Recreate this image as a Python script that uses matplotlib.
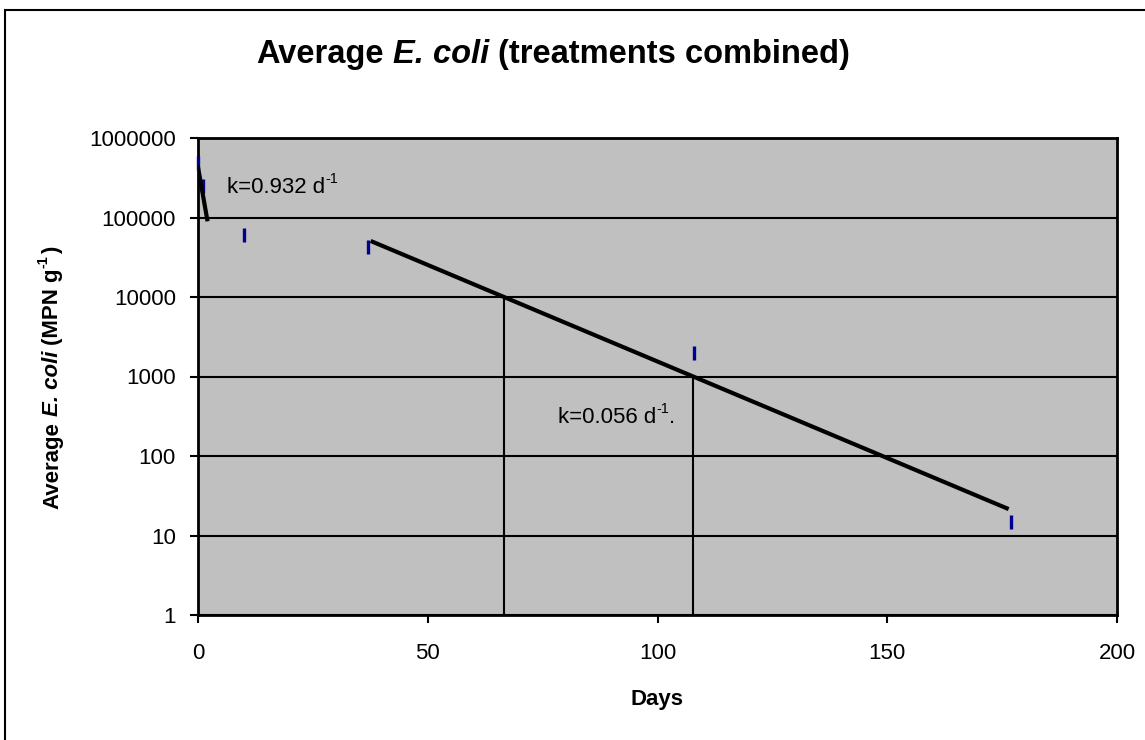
import matplotlib

matplotlib.use("Agg")
import matplotlib.pyplot as plt
from matplotlib.patches import Rectangle
from matplotlib.transforms import IdentityTransform

plt.rcParams["font.family"] = ["Liberation Sans", "DejaVu Sans"]

# observed averages (days, MPN/g)
days = [0, 1, 10, 37, 108, 177]
ecoli = [4.9e5, 2.5e5, 6.0e4, 4.2e4, 2.0e3, 15]

# fitted first-order decay segments (end points)
fit1_x = [0, 2]
fit1_y = [4.3e5, 9.5e4]
fit2_x = [38, 176]
fit2_y = [4.95e4, 22]

# drop lines marking the 10000 -> 1000 decade on the second fit
drop_x = [66.6, 107.8]
drop_y = [1e4, 1e3]

W, H = 1145, 740
fig = plt.figure(figsize=(W / 100, H / 100), dpi=100)
ax = fig.add_axes([198 / W, 1 - 615 / H, 919 / W, 477 / H])
ax.set_facecolor("#c0c0c0")

ax.set_yscale("log")
ax.set_xlim(0, 200)
ax.set_ylim(1, 1e6)
ax.set_xticks([0, 50, 100, 150, 200])
ax.set_yticks([1, 10, 100, 1000, 10000, 100000, 1000000])
ax.set_yticklabels(["1", "10", "100", "1000", "10000", "100000", "1000000"])
ax.minorticks_off()
ax.grid(True, axis="y", color="black", lw=1.5)
ax.set_axisbelow(True)
ax.tick_params(axis="both", labelsize=16, direction="out", length=6, width=1.5)
ax.tick_params(axis="y", pad=10)
ax.tick_params(axis="x", pad=14)
for s in ax.spines.values():
    s.set_linewidth(2)

for x, y in zip(drop_x, drop_y):
    ax.plot([x, x], [1, y], color="black", lw=1.5)

ax.plot(days, ecoli, linestyle="none", marker="|", markersize=10,
        markeredgewidth=2.4, color="#000090", zorder=3, clip_on=False)
ax.plot(fit1_x, fit1_y, color="black", lw=3, zorder=4)
ax.plot(fit2_x, fit2_y, color="black", lw=3, zorder=4)

renderer = fig.canvas.get_renderer()


def rich(x, y, pieces, size, weight="normal", rotation=0, align="left"):
    """Lay out mixed-style pieces; x, y in pixels (baseline start)."""
    ident = IdentityTransform()
    texts = []
    cur = 0.0
    for txt, style, sup, gap in pieces:
        fs = size * 0.65 if sup else size
        rise = size * 0.45 * 100 / 72 if sup else 0.0
        cur += gap * size * 100 / 72
        if rotation == 90:
            pos = (x - rise, y + cur)
        else:
            pos = (x + cur, y + rise)
        t = fig.text(pos[0], pos[1], txt, transform=ident, fontsize=fs,
                     fontweight=weight, fontstyle=style, rotation=rotation,
                     rotation_mode="anchor", ha="left", va="baseline")
        bb = t.get_window_extent(renderer)
        cur += bb.height if rotation == 90 else bb.width
        texts.append(t)
    if align == "center":
        for t in texts:
            px, py = t.get_position()
            if rotation == 90:
                t.set_position((px, py - cur / 2))
            else:
                t.set_position((px - cur / 2, py))
    return texts


SP = 0.278  # Arial space width in em

# title
rich(553, H - 63, [("Average", "normal", False, 0), ("E. coli", "italic", False, SP),
                   ("(treatments combined)", "normal", False, SP)],
     23.5, weight="bold", align="center")

# y axis label
rich(58, H - 378, [("Average", "normal", False, 0), ("E. coli", "italic", False, SP),
                   ("(MPN g", "normal", False, SP), ("-1", "normal", True, 0),
                   (")", "normal", False, 0.05)],
     16, weight="bold", rotation=90, align="center")

# x axis label
rich(657, H - 705, [("Days", "normal", False, 0)], 16, weight="bold", align="center")

# rate annotations
ax0 = ax.transData.transform((6.3, 2.03e5))
rich(ax0[0], ax0[1], [("k=0.932 d", "normal", False, 0), ("-1", "normal", True, 0)], 16)
ax1 = ax.transData.transform((78.3, 260))
rich(ax1[0], ax1[1], [("k=0.056 d", "normal", False, 0), ("-1", "normal", True, 0),
                      (".", "normal", False, 0)], 16)

fig.patches.append(Rectangle((5 / W, -0.1), 1.2, 1 - 10 / H + 0.1,
                             transform=fig.transFigure, fill=False,
                             edgecolor="black", lw=1.5))

fig.savefig("out.png", dpi=100)
